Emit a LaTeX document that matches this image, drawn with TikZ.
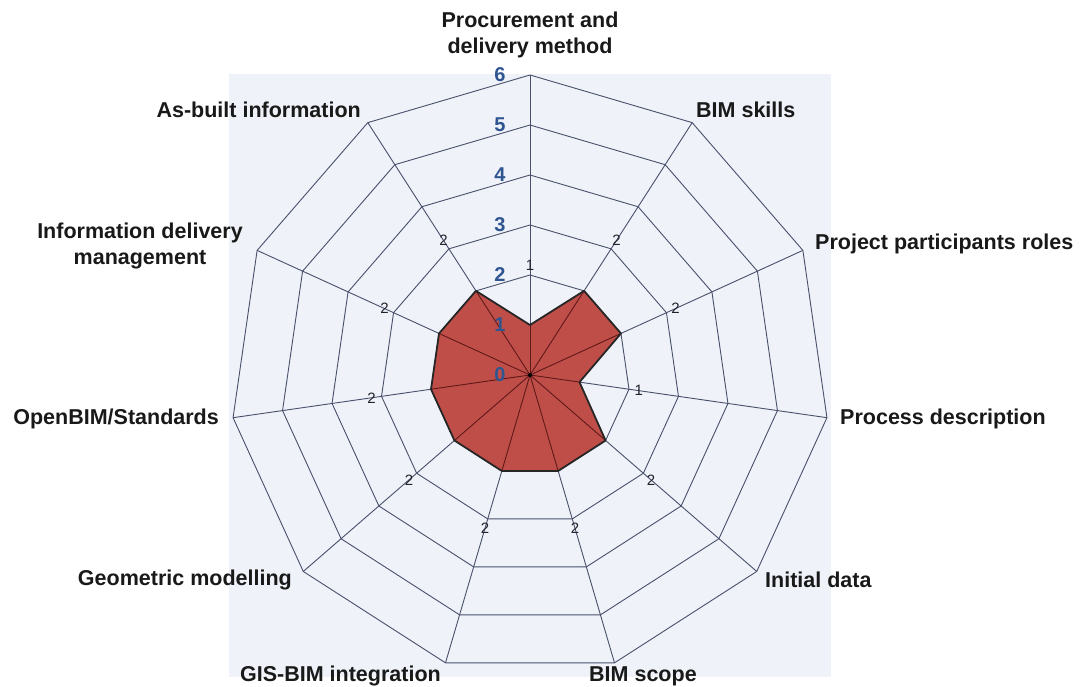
\documentclass[tikz,border=0pt]{standalone}
\usepackage{fontspec}
\setmainfont{Liberation Sans}
\definecolor{bgc}{RGB}{239,242,248}
\definecolor{gridc}{RGB}{72,80,108}
\definecolor{fillc}{RGB}{192,78,72}
\definecolor{spokec}{RGB}{95,25,25}
\definecolor{numc}{RGB}{47,85,145}
\definecolor{datc}{RGB}{35,35,45}
\begin{document}
\begin{tikzpicture}[x=1pt,y=-1pt,
  gridline/.style={draw=gridc,line width=0.9pt},
  axlab/.style={inner sep=0pt,font=\fontsize{21.5}{26}\selectfont\bfseries,text=black!90},
  numlab/.style={inner sep=0pt,font=\fontsize{20}{22}\selectfont\bfseries,text=numc},
  datlab/.style={inner sep=0pt,font=\fontsize{15}{16}\selectfont,text=datc},
  polyline/.style={draw=black!85,line width=1.8pt,line join=round}]
\useasboundingbox (0,0) rectangle (1081,687);
\fill[bgc] (229,74) rectangle (831,677);
\coordinate (O) at (530,375);
\foreach \k in {0,...,10}{
  \foreach \r in {1,...,6}{
    \coordinate (g\k-\r) at ({530+50*\r*sin(\k*360/11)},{375-50*\r*cos(\k*360/11)});
  }
}
% rings
\foreach \r in {1,...,6}{
  \draw[gridline] (g0-\r) -- (g1-\r) -- (g2-\r) -- (g3-\r) -- (g4-\r) -- (g5-\r) -- (g6-\r) -- (g7-\r) -- (g8-\r) -- (g9-\r) -- (g10-\r) -- cycle;
}
% spokes
\foreach \k in {0,...,10}{
  \draw[gridline] (O) -- (g\k-6);
}
% data
\foreach \k/\v in {0/1,1/2,2/2,3/1,4/2,5/2,6/2,7/2,8/2,9/2,10/2}{
  \coordinate (d\k) at ({530+50*\v*sin(\k*360/11)},{375-50*\v*cos(\k*360/11)});
  \coordinate (l\k) at ({530+(50*\v+60)*sin(\k*360/11)},{375-(50*\v+60)*cos(\k*360/11)});
}
\fill[fillc] (d0) -- (d1) -- (d2) -- (d3) -- (d4) -- (d5) -- (d6) -- (d7) -- (d8) -- (d9) -- (d10) -- cycle;
\foreach \k in {0,...,10}{
  \draw[spokec,line width=0.9pt] (O) -- (d\k);
}
\draw[polyline] (d0) -- (d1) -- (d2) -- (d3) -- (d4) -- (d5) -- (d6) -- (d7) -- (d8) -- (d9) -- (d10) -- cycle;
\fill[black] (O) circle (2pt);
% axis numbers
\foreach \n in {0,...,6}{
  \node[numlab] (n\n) at (500,{375-50*\n}) {\n};
}
% data labels
\foreach \k/\t in {0/1,1/2,2/2,3/1,4/2,5/2,6/2,7/2,8/2,9/2,10/2}{
  \node[datlab] (v\k) at (l\k) {\t};
}
% axis labels
\node[axlab,align=center] (a0) at (530,35) {Procurement and\\delivery method};
\node[axlab,anchor=west] (a1) at (696,110) {BIM skills};
\node[axlab,anchor=west] (a2) at (815,244) {Project participants roles};
\node[axlab,anchor=west] (a3) at (840,419) {Process description};
\node[axlab,anchor=west] (a4) at (765,580) {Initial data};
\node[axlab,anchor=west] (a5) at (589,676) {BIM scope};
\node[axlab,anchor=east] (a6) at (441,676) {GIS-BIM integration};
\node[axlab,anchor=east] (a7) at (292,580) {Geometric modelling};
\node[axlab,anchor=east] (a8) at (219,419) {OpenBIM/Standards};
\node[axlab,align=center] (a9) at (140,246) {Information delivery\\management};
\node[axlab,anchor=east] (a10) at (361,110) {As-built information};
\end{tikzpicture}
\end{document}
